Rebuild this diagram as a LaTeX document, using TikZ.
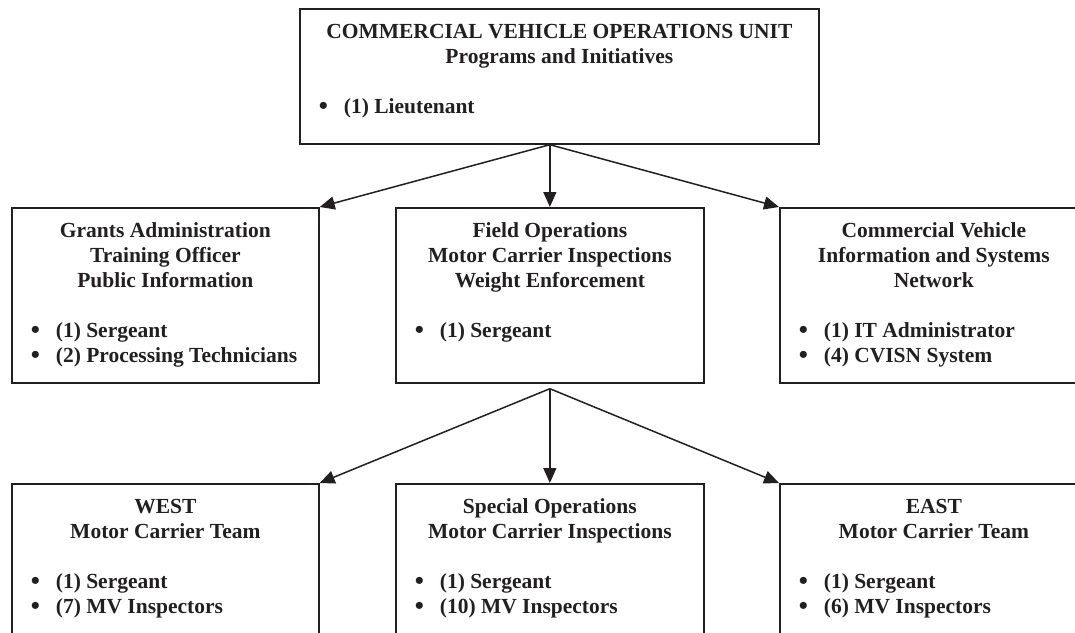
\documentclass[tikz,border=0pt]{standalone}
\usepackage{fontspec}
\setmainfont{Liberation Serif}
\usetikzlibrary{arrows.meta,calc}
\definecolor{Ink}{HTML}{231F20}
\newcommand{\staffline}[1]{\hspace*{19pt}\makebox[25pt][l]{\smash{\raisebox{-1pt}{\fontsize{26}{25}\selectfont\textbullet}}}#1}

\begin{document}
\begin{tikzpicture}[x=1pt,y=-1pt,
  unit/.style={draw=Ink,line width=1.7pt,anchor=north west,inner sep=0pt,text=Ink,font=\fontsize{21.5}{25}\selectfont\bfseries},
  arr/.style={-{Triangle[length=15pt,width=13pt]},line width=1.5pt,draw=Ink}
]
\path[use as bounding box,clip] (0,0) rectangle (1075,632);
% top unit
\node[unit] (cvo) at (299,8) {\parbox[t][135pt][t]{519pt}{\centering\rule{0pt}{30pt}COMMERCIAL VEHICLE OPERATIONS UNIT\\Programs and Initiatives\par\vspace{25pt}\raggedright
  \staffline{(1) Lieutenant}}};
% second row
\node[unit] (grants) at (11,207) {\parbox[t][175pt][t]{307pt}{\centering\rule{0pt}{30pt}Grants Administration\\Training Officer\\Public Information\par\vspace{25pt}\raggedright
  \staffline{(1) Sergeant}\\\staffline{(2) Processing Technicians}}};
\node[unit] (field) at (395,207) {\parbox[t][175pt][t]{308pt}{\centering\rule{0pt}{30pt}Field Operations\\Motor Carrier Inspections\\Weight Enforcement\par\vspace{25pt}\raggedright
  \staffline{(1) Sergeant}}};
\node[unit] (cvisn) at (779,207) {\parbox[t][175pt][t]{308pt}{\centering\rule{0pt}{30pt}Commercial Vehicle\\Information and Systems\\Network\par\vspace{25pt}\raggedright
  \staffline{(1) IT Administrator}\\\staffline{(4) CVISN System}}};
% third row
\node[unit] (west) at (11,483) {\parbox[t][175pt][t]{307pt}{\centering\rule{0pt}{30pt}WEST\\Motor Carrier Team\par\vspace{25pt}\raggedright
  \staffline{(1) Sergeant}\\\staffline{(7) MV Inspectors}}};
\node[unit] (special) at (395,483) {\parbox[t][175pt][t]{308pt}{\centering\rule{0pt}{30pt}Special Operations\\Motor Carrier Inspections\par\vspace{25pt}\raggedright
  \staffline{(1) Sergeant}\\\staffline{(10) MV Inspectors}}};
\node[unit] (east) at (779,483) {\parbox[t][175pt][t]{308pt}{\centering\rule{0pt}{30pt}EAST\\Motor Carrier Team\par\vspace{25pt}\raggedright
  \staffline{(1) Sergeant}\\\staffline{(6) MV Inspectors}}};
% connectors
\coordinate (fork1) at (field.north |- cvo.south);
\coordinate (fork2) at ([yshift=-5pt]field.south);
\draw[arr] (fork1) -- (grants.north east);
\draw[arr] (fork1) -- (field.north);
\draw[arr] (fork1) -- (cvisn.north west);
\draw[arr] (fork2) -- (west.north east);
\draw[arr] (fork2) -- (special.north);
\draw[arr] (fork2) -- (east.north west);
\end{tikzpicture}
\end{document}
